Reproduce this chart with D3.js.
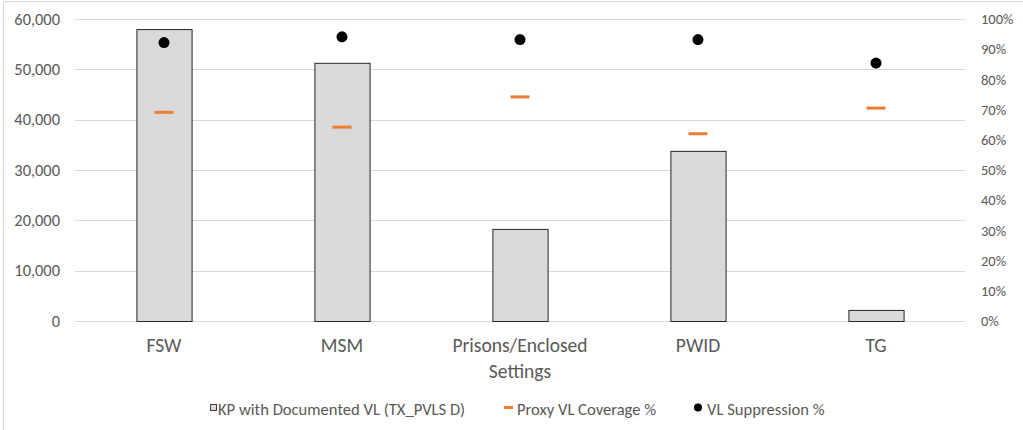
<!DOCTYPE html>
<html>
<head>
<meta charset="utf-8">
<script src="https://cdn.jsdelivr.net/npm/d3@7"></script>
<style>
  body { margin: 0; background: #fff; }
  text { font-family: Carlito, Calibri, Lato, sans-serif; fill: #595959; }
</style>
</head>
<body>
<div id="chart"></div>
<script>
const categories = ["FSW", "MSM", "Prisons/Enclosed Settings", "PWID", "TG"];
const documentedVL = [58000, 51300, 18300, 33800, 2200];
const proxyCoverage = [0.691, 0.642, 0.742, 0.620, 0.705];
const vlSuppression = [0.922, 0.941, 0.932, 0.932, 0.854];
const leftTicks = [0, 10000, 20000, 30000, 40000, 50000, 60000];
const rightTicks = [0, 0.1, 0.2, 0.3, 0.4, 0.5, 0.6, 0.7, 0.8, 0.9, 1];

const W = 1023, H = 430;
const plot = {left: 75, right: 965, top: 19, bottom: 321};

const svg = d3.select("#chart").append("svg")
  .attr("width", W)
  .attr("height", H);

// chart border (runs off the right and bottom edges)
svg.append("rect")
  .attr("x", 3.5).attr("y", 1.5)
  .attr("width", W + 10).attr("height", H + 10)
  .attr("fill", "none")
  .attr("stroke", "#d9d9d9");

const x = d3.scaleBand()
  .domain(categories)
  .range([plot.left, plot.right])
  .paddingInner(0.69)
  .paddingOuter(0.345);

const y = d3.scaleLinear().domain([0, 60000]).range([plot.bottom, plot.top]);
const y2 = d3.scaleLinear().domain([0, 1]).range([plot.bottom, plot.top]);

const data = categories.map(function (c, i) {
  return {cat: c, n: documentedVL[i], cov: proxyCoverage[i], sup: vlSuppression[i]};
});

// gridlines
svg.append("g")
  .selectAll("line")
  .data(leftTicks).enter()
  .append("line")
    .attr("x1", plot.left).attr("x2", plot.right)
    .attr("y1", d => Math.round(y(d)) + 0.5)
    .attr("y2", d => Math.round(y(d)) + 0.5)
    .attr("stroke", "#d9d9d9")
    .attr("stroke-width", 1);

// left axis
const axL = svg.append("g")
  .attr("transform", "translate(" + plot.left + ",0)")
  .call(d3.axisLeft(y).tickValues(leftTicks).tickFormat(d3.format(",")).tickSize(0).tickPadding(15));
axL.select(".domain").remove();
axL.selectAll("text").style("font-size", "16.4px").attr("fill", "#595959");

// right axis
const axR = svg.append("g")
  .attr("transform", "translate(" + plot.right + ",0)")
  .call(d3.axisRight(y2).tickValues(rightTicks).tickFormat(d3.format(".0%")).tickSize(0).tickPadding(16));
axR.select(".domain").remove();
axR.selectAll("text").style("font-size", "14.5px").attr("fill", "#595959");

// bars
svg.append("g")
  .selectAll("rect")
  .data(data).enter()
  .append("rect")
    .attr("x", d => x(d.cat) + 0.5)
    .attr("y", d => y(d.n) + 0.5)
    .attr("width", x.bandwidth())
    .attr("height", d => y(0) - y(d.n))
    .attr("fill", "#d9d9d9")
    .attr("stroke", "#262626")
    .attr("stroke-width", 1);

// proxy VL coverage dashes
svg.append("g")
  .selectAll("line")
  .data(data).enter()
  .append("line")
    .attr("x1", d => x(d.cat) + x.bandwidth() / 2 - 9.5)
    .attr("x2", d => x(d.cat) + x.bandwidth() / 2 + 9.5)
    .attr("y1", d => y2(d.cov))
    .attr("y2", d => y2(d.cov))
    .attr("stroke", "#ed7d31")
    .attr("stroke-width", 3);

// VL suppression dots
svg.append("g")
  .selectAll("circle")
  .data(data).enter()
  .append("circle")
    .attr("cx", d => x(d.cat) + x.bandwidth() / 2)
    .attr("cy", d => y2(d.sup))
    .attr("r", 5.5)
    .attr("fill", "#000");

// category labels, Excel-style wrap
const labels = svg.append("g")
  .selectAll("text")
  .data(categories).enter()
  .append("text")
    .attr("x", d => x(d) + x.bandwidth() / 2)
    .attr("y", 352)
    .attr("text-anchor", "middle")
    .style("font-size", "19.5px");
labels.each(function (d) {
  const parts = d === "Prisons/Enclosed Settings" ? ["Prisons/Enclosed", "Settings"] : [d];
  const t = d3.select(this);
  parts.forEach(function (p, i) {
    t.append("tspan")
      .attr("x", x(d) + x.bandwidth() / 2)
      .attr("dy", i === 0 ? 0 : 26)
      .text(p);
  });
});

// legend
const legend = svg.append("g").attr("transform", "translate(0,409)");
legend.append("rect")
  .attr("x", 210.5).attr("y", -4.5)
  .attr("width", 6).attr("height", 6)
  .attr("fill", "#d9d9d9").attr("stroke", "#404040");
legend.append("text").attr("x", 218).attr("dy", "0.35em").style("font-size", "16.6px")
  .text("KP with Documented VL (TX_PVLS D)");
legend.append("line")
  .attr("x1", 504).attr("x2", 513).attr("y1", -1.5).attr("y2", -1.5)
  .attr("stroke", "#ed7d31").attr("stroke-width", 3);
legend.append("text").attr("x", 517).attr("dy", "0.35em").style("font-size", "16.6px")
  .text("Proxy VL Coverage %");
legend.append("circle")
  .attr("cx", 698).attr("cy", -1.5).attr("r", 4).attr("fill", "#000");
legend.append("text").attr("x", 707).attr("dy", "0.35em").style("font-size", "16.6px")
  .text("VL Suppression %");
</script>
</body>
</html>
